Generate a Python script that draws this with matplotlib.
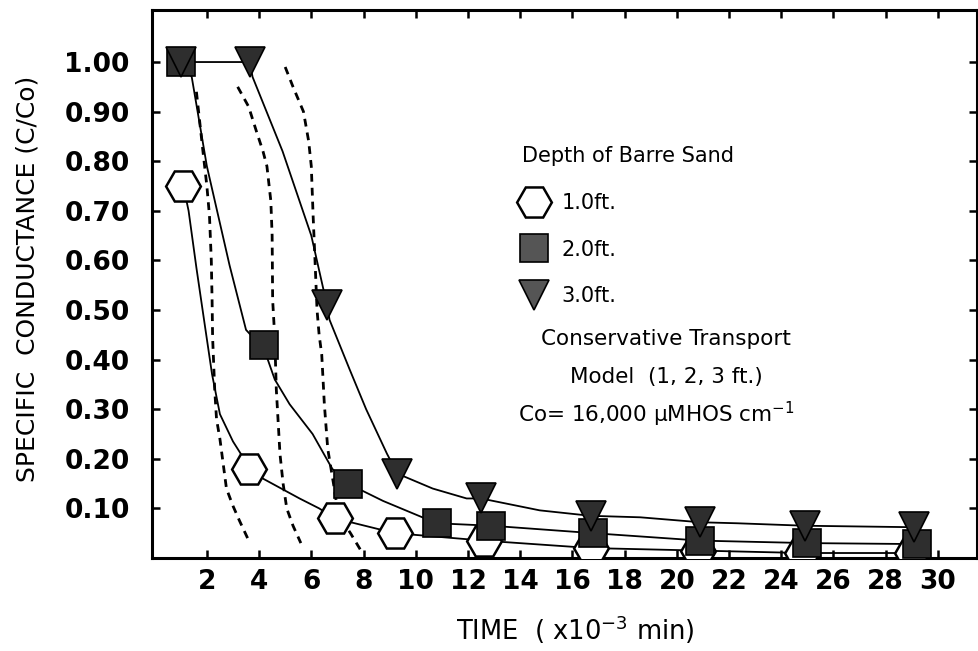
import numpy as np
import matplotlib
matplotlib.use('Agg')
import matplotlib.pyplot as plt
from matplotlib.lines import Line2D

# observed points, time in 10^3 min, C/Co
t_1ft = [1.1, 3.6, 6.9, 9.2, 12.6, 16.7, 20.8, 24.8, 29.0]
c_1ft = [0.75, 0.18, 0.08, 0.05, 0.035, 0.02, 0.015, 0.01, 0.01]
t_2ft = [1.0, 4.2, 7.4, 10.8, 12.9, 16.8, 20.9, 25.0, 29.2]
c_2ft = [1.00, 0.43, 0.15, 0.07, 0.065, 0.05, 0.035, 0.03, 0.028]
t_3ft = [1.0, 3.65, 6.6, 9.3, 12.5, 16.7, 20.9, 24.9, 29.1]
c_3ft = [1.00, 1.00, 0.51, 0.17, 0.12, 0.085, 0.072, 0.065, 0.062]

# hand drawn curves through the data
fit_1ft_t = [1.1, 1.3, 1.6, 1.92, 2.2, 2.5, 3.0, 3.3, 3.6, 4.15, 5.55, 6.3, 6.9, 9.2, 12.6, 16.7, 20.8, 24.8, 29.0]
fit_1ft_c = [0.75, 0.70, 0.585, 0.47, 0.37, 0.29, 0.235, 0.21, 0.18, 0.16, 0.12, 0.10, 0.08, 0.05, 0.035, 0.02, 0.015, 0.01, 0.01]
fit_2ft_t = [1.0, 1.42, 2.0, 2.87, 3.5, 4.2, 4.6, 5.17, 6.05, 6.8, 7.4, 8.75, 10.8, 12.9, 16.8, 20.9, 25.0, 29.2]
fit_2ft_c = [1.0, 0.97, 0.79, 0.59, 0.46, 0.42, 0.36, 0.31, 0.25, 0.18, 0.15, 0.115, 0.07, 0.065, 0.05, 0.035, 0.03, 0.028]
fit_3ft_t = [1.0, 3.65, 3.75, 4.9, 6.0, 6.6, 6.7, 7.47, 8.1, 8.9, 9.3, 10.65, 11.95, 12.5, 14.75, 16.7, 18.6, 20.9, 22.3, 24.9, 29.1]
fit_3ft_c = [1.0, 1.0, 0.97, 0.82, 0.65, 0.51, 0.48, 0.38, 0.30, 0.21, 0.17, 0.14, 0.12, 0.12, 0.096, 0.085, 0.082, 0.072, 0.07, 0.065, 0.062]

# conservative transport model, 1, 2, 3 ft
model_1_t = [1.6, 1.85, 2.0, 2.1, 2.17, 2.2, 2.22, 2.3, 2.37, 2.5, 2.75, 3.0, 3.25, 3.56]
model_1_c = [0.94, 0.82, 0.75, 0.69, 0.6, 0.52, 0.445, 0.34, 0.28, 0.24, 0.14, 0.105, 0.075, 0.04]
model_2_t = [3.18, 3.6, 3.9, 4.15, 4.3, 4.45, 4.5, 4.52, 4.6, 4.66, 4.8, 4.92, 5.06, 5.3, 5.6]
model_2_c = [0.95, 0.91, 0.86, 0.82, 0.79, 0.72, 0.65, 0.52, 0.445, 0.34, 0.21, 0.15, 0.10, 0.065, 0.03]
model_3_t = [5.0, 5.3, 5.7, 5.9, 6.0, 6.07, 6.15, 6.22, 6.3, 6.4, 6.5, 6.63, 6.85, 7.0, 7.25, 7.5, 7.9]
model_3_c = [0.99, 0.95, 0.90, 0.84, 0.79, 0.69, 0.59, 0.50, 0.45, 0.41, 0.31, 0.22, 0.15, 0.10, 0.07, 0.05, 0.015]

xticks = list(range(2, 31, 2))
yticks = [0.1, 0.2, 0.3, 0.4, 0.5, 0.6, 0.7, 0.8, 0.9, 1.0]

fig = plt.figure(figsize=(9.79, 6.51), dpi=100)
ax = fig.add_axes([0.1553, 0.1429, 0.8427, 0.8418])

dark = '#2e2e2e'
dash = (0, (2.8, 2.2))
for mt, mc in [(model_1_t, model_1_c), (model_2_t, model_2_c), (model_3_t, model_3_c)]:
    ax.plot(mt, mc, color='black', lw=2.0, ls=dash, zorder=2)

ax.plot(fit_1ft_t, fit_1ft_c, color='black', lw=1.3, zorder=3)
ax.plot(fit_2ft_t, fit_2ft_c, color='black', lw=1.3, zorder=3)
ax.plot(fit_3ft_t, fit_3ft_c, color='black', lw=1.3, zorder=3)

ax.plot(t_1ft, c_1ft, ls='none', marker='H', ms=25, mfc='white', mec='black', mew=1.8, zorder=4)
ax.plot(t_2ft, c_2ft, ls='none', marker='s', ms=20, mfc=dark, mec='black', mew=1.2, zorder=5)
ax.plot(t_3ft, c_3ft, ls='none', marker='v', ms=22, mfc=dark, mec='black', mew=1.2, zorder=6)

ax.set_xlim(-0.1, 31.5)
ax.set_ylim(0, 1.105)
ax.set_xticks(xticks)
ax.set_xticklabels([str(v) for v in xticks])
ax.set_yticks(yticks)
ax.set_yticklabels(['%.2f' % v for v in yticks])
ax.tick_params(direction='in', length=6, width=1.8, top=True, right=True,
               labelsize=19, colors='black')
ax.tick_params(axis='y', pad=16)
ax.tick_params(axis='x', pad=8)
for lab in ax.get_xticklabels() + ax.get_yticklabels():
    lab.set_fontweight('bold')
for s in ax.spines.values():
    s.set_linewidth(2.2)

ax.set_ylabel('SPECIFIC  CONDUCTANCE (C/Co)', fontsize=18)
ax.yaxis.set_label_coords(-0.137, 0.51)
ax.set_xlabel(r'TIME  ( x10$^{-3}$ min)', fontsize=18.5)
ax.xaxis.set_label_coords(0.513, -0.102)

handles = [
    Line2D([], [], ls='none', marker='H', ms=25, mfc='white', mec='black', mew=1.8),
    Line2D([], [], ls='none', marker='s', ms=20, mfc='#555555', mec='black', mew=1.2),
    Line2D([], [], ls='none', marker='v', ms=22, mfc='#555555', mec='black', mew=1.2),
]
leg = ax.legend(handles, ['1.0ft.', '2.0ft.', '3.0ft.'], title='Depth of Barre Sand',
                loc='upper left', bbox_to_anchor=(0.449, 0.751), frameon=False,
                fontsize=15, title_fontsize=15, alignment='left',
                handlelength=1.15, handletextpad=0.72, labelspacing=1.28,
                borderpad=0, borderaxespad=0)

ax.text(0.623, 0.389, 'Conservative Transport', transform=ax.transAxes,
        fontsize=15.5, ha='center', va='baseline')
ax.text(0.624, 0.319, 'Model  (1, 2, 3 ft.)', transform=ax.transAxes,
        fontsize=15.5, ha='center', va='baseline')
ax.text(0.4436, 0.248, 'Co= 16,000 μMHOS cm$^{-1}$', transform=ax.transAxes,
        fontsize=15.5, ha='left', va='baseline')

fig.savefig('out.png', dpi=100)
